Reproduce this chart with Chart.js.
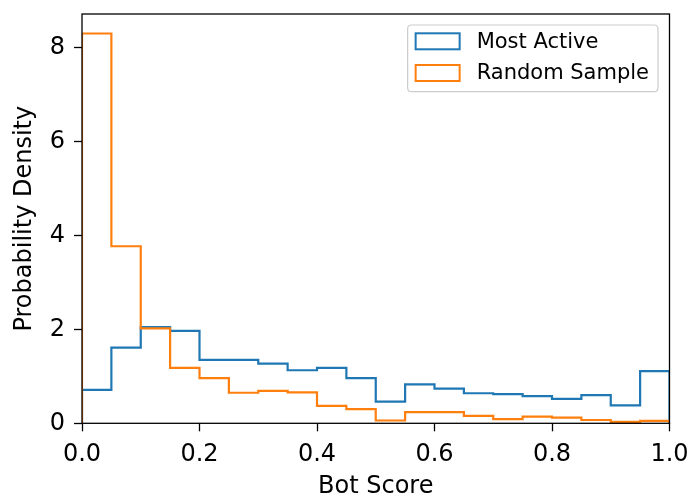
<!DOCTYPE html>
<html>
<head>
<meta charset="utf-8">
<script src="https://cdn.jsdelivr.net/npm/chart.js@4/dist/chart.umd.min.js"></script>
<style>
  html, body { margin: 0; padding: 0; background: #fff; }
  #c { display: block; }
</style>
</head>
<body>
<canvas id="c" width="693" height="499"></canvas>
<script>
// Bin edges (histogram, 20 bins)
const binEdges = [0.00, 0.05, 0.10, 0.15, 0.20, 0.25, 0.30, 0.35, 0.40, 0.45, 0.50,
                  0.55, 0.60, 0.65, 0.70, 0.75, 0.80, 0.85, 0.90, 0.95, 1.00];
// Probability density per bin
const mostActive   = [0.71, 1.61, 2.05, 1.97, 1.35, 1.35, 1.27, 1.13, 1.18, 0.96,
                      0.46, 0.83, 0.74, 0.64, 0.62, 0.58, 0.52, 0.60, 0.38, 1.11];
const randomSample = [8.30, 3.77, 2.02, 1.18, 0.96, 0.65, 0.69, 0.66, 0.37, 0.30,
                      0.06, 0.24, 0.24, 0.16, 0.09, 0.14, 0.12, 0.07, 0.03, 0.05];
const seriesLabels = ["Most Active", "Random Sample"];
const xTicks = [0.0, 0.2, 0.4, 0.6, 0.8, 1.0];
const yTicks = [0, 2, 4, 6, 8];
const xLabel = "Bot Score";
const yLabel = "Probability Density";

const BLUE = "#1f77b4", ORANGE = "#ff7f0e";
const FONT = "'DejaVu Sans', sans-serif";

function stepOutline(edges, vals) {
  const pts = [{x: edges[0], y: 0}];
  for (let i = 0; i < vals.length; i++) {
    pts.push({x: edges[i], y: vals[i]});
    pts.push({x: edges[i + 1], y: vals[i]});
  }
  pts.push({x: edges[edges.length - 1], y: 0});
  return pts;
}

const framePlugin = {
  id: "frame",
  afterDatasetsDraw(chart) {
    const {ctx, chartArea: a} = chart;
    ctx.save();
    ctx.strokeStyle = "#000";
    ctx.lineWidth = 1.3;
    ctx.strokeRect(a.left, a.top, a.right - a.left, a.bottom - a.top);
    ctx.restore();
  },
  afterDraw(chart) {
    const {ctx, chartArea: a} = chart;
    const ds = chart.data.datasets;
    ctx.save();
    ctx.font = "21px " + FONT;
    let maxW = 0;
    ds.forEach(d => { maxW = Math.max(maxW, ctx.measureText(d.label).width); });
    const w = 8 + 44 + 17 + maxW + 9;
    const h = 66.7;
    const x0 = a.right - 11.5 - w;
    const y0 = a.top + 11;
    const r = 4;
    ctx.beginPath();
    ctx.moveTo(x0 + r, y0);
    ctx.lineTo(x0 + w - r, y0);
    ctx.quadraticCurveTo(x0 + w, y0, x0 + w, y0 + r);
    ctx.lineTo(x0 + w, y0 + h - r);
    ctx.quadraticCurveTo(x0 + w, y0 + h, x0 + w - r, y0 + h);
    ctx.lineTo(x0 + r, y0 + h);
    ctx.quadraticCurveTo(x0, y0 + h, x0, y0 + h - r);
    ctx.lineTo(x0, y0 + r);
    ctx.quadraticCurveTo(x0, y0, x0 + r, y0);
    ctx.closePath();
    ctx.fillStyle = "rgba(255,255,255,0.8)";
    ctx.fill();
    ctx.strokeStyle = "#cccccc";
    ctx.lineWidth = 1.2;
    ctx.stroke();
    const order = seriesLabels.map(l => ds.find(d => d.label === l));
    order.forEach((d, i) => {
      const cy = y0 + 16.3 + i * 31.7;
      ctx.strokeStyle = d.borderColor;
      ctx.lineWidth = 2;
      ctx.strokeRect(x0 + 8, cy - 8, 44, 16);
      ctx.fillStyle = "#000";
      ctx.textBaseline = "middle";
      ctx.textAlign = "left";
      ctx.fillText(d.label, x0 + 8 + 44 + 17, cy + 1);
    });
    ctx.restore();
  }
};

const tickFont = {family: FONT, size: 24};

new Chart(document.getElementById("c"), {
  type: "line",
  data: {
    datasets: [
      {
        label: seriesLabels[0],
        data: stepOutline(binEdges, mostActive),
        borderColor: BLUE, borderWidth: 2.2,
        pointRadius: 0, fill: false, tension: 0,
        borderJoinStyle: "miter", order: 1
      },
      {
        label: seriesLabels[1],
        data: stepOutline(binEdges, randomSample),
        borderColor: ORANGE, borderWidth: 2.2,
        pointRadius: 0, fill: false, tension: 0,
        borderJoinStyle: "miter", order: 0
      }
    ]
  },
  options: {
    responsive: false,
    animation: false,
    devicePixelRatio: 1,
    layout: {padding: {left: 0, top: 14, right: 23.5, bottom: 0}},
    plugins: {legend: {display: false}, tooltip: {enabled: false}},
    scales: {
      x: {
        type: "linear", min: 0, max: 1,
        afterBuildTicks: s => { s.ticks = xTicks.map(v => ({value: v})); },
        afterFit: s => { s.height = 75.7; s.paddingLeft = 0; s.paddingRight = 0; },
        ticks: {
          color: "#000", font: tickFont, padding: 9, maxRotation: 0,
          callback: v => Number(v).toFixed(1)
        },
        grid: {display: true, drawOnChartArea: false, drawTicks: true,
               tickLength: 8, tickColor: "#000", tickWidth: 1.3},
        border: {display: false},
        title: {display: true, text: xLabel, color: "#000",
                font: {family: FONT, size: 24, lineHeight: 1},
                padding: {top: 0, bottom: 0}}
      },
      y: {
        type: "linear", min: 0, max: 8.715,
        afterBuildTicks: s => { s.ticks = yTicks.map(v => ({value: v})); },
        afterFit: s => { s.width = 82; s.paddingTop = 0; s.paddingBottom = 0; },
        ticks: {color: "#000", font: tickFont, padding: 9,
                callback: v => String(v)},
        grid: {display: true, drawOnChartArea: false, drawTicks: true,
               tickLength: 8, tickColor: "#000", tickWidth: 1.3},
        border: {display: false},
        title: {display: true, text: yLabel, color: "#000",
                font: {family: FONT, size: 24, lineHeight: 1},
                padding: {top: 13, bottom: 0}}
      }
    }
  },
  plugins: [framePlugin]
});
</script>
</body>
</html>
